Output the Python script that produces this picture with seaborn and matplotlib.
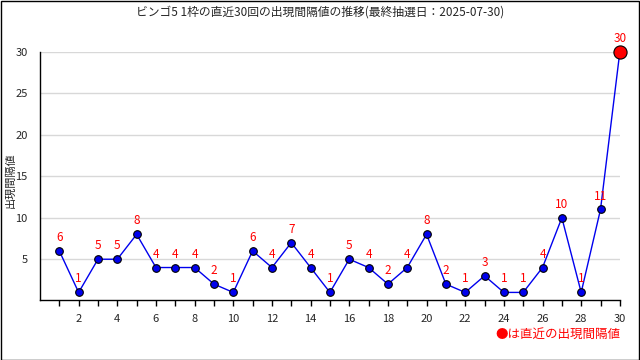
import matplotlib
matplotlib.use("Agg")
import matplotlib.pyplot as plt
import seaborn as sns
import pandas as pd

draws = list(range(1, 31))
intervals = [6, 1, 5, 5, 8, 4, 4, 4, 2, 1, 6, 4, 7, 4, 1, 5, 4, 2, 4, 8,
             2, 1, 3, 1, 1, 4, 10, 1, 11, 30]
xtick_labels = ["" if i % 2 else str(i) for i in draws]
yticks = [5, 10, 15, 20, 25, 30]

df = pd.DataFrame({"draw": draws, "interval": intervals})

sns.set_style("white")
plt.rcParams["font.family"] = ["Noto Sans CJK JP", "DejaVu Sans"]

fig = plt.figure(figsize=(6.4, 3.6), dpi=100)
ax = fig.add_axes([0.0625, 0.167, 0.906, 0.689])

sns.lineplot(data=df, x="draw", y="interval", ax=ax, color="#0000ee",
             linewidth=1, marker="o", markersize=5.5,
             markerfacecolor="#0000ee", markeredgecolor="black",
             markeredgewidth=0.8, zorder=3)
last = df.iloc[[-1]]
sns.scatterplot(data=last, x="draw", y="interval", ax=ax, color="#ff0000",
                s=90, edgecolor="black", linewidth=0.8, zorder=4,
                legend=False, clip_on=False)

for x, y in zip(draws, intervals):
    ax.annotate(str(y), (x, y), xytext=(0, 5), textcoords="offset points",
                ha="center", va="bottom", color="#ff0000", fontsize=8.5)

ax.set_xlim(0, 30)
ax.set_ylim(0.1, 30)
ax.set_xticks(draws)
ax.set_xticklabels(xtick_labels)
ax.set_yticks(yticks)
ax.yaxis.grid(True, color="#d8d8d8", linewidth=1)
ax.set_axisbelow(True)
for s in ["top", "right"]:
    ax.spines[s].set_visible(False)
for s in ["left", "bottom"]:
    ax.spines[s].set_color("black")
    ax.spines[s].set_linewidth(1)
ax.tick_params(axis="x", length=4, width=1, color="black", labelsize=8, pad=6, direction="out", bottom=True)
ax.tick_params(axis="y", length=0, labelsize=8, pad=9)
ax.set_xlabel("")
ax.set_ylabel("")

fig.text(10 / 640, 0.5, "出現間隔値", rotation=90, ha="center", va="center", fontsize=8)
fig.text(0.5, 0.967, "ビンゴ5 1枠の直近30回の出現間隔値の推移(最終抽選日：2025-07-30)",
         ha="center", va="center", fontsize=8.5)
fig.text(0.97, 0.07, "●は直近の出現間隔値", ha="right", va="center",
         color="#ff0000", fontsize=9)

fig.patches.append(plt.Rectangle((0.001, 0.001), 0.997, 0.997, transform=fig.transFigure,
                                 fill=False, edgecolor="black", linewidth=1))

fig.savefig("out.png", dpi=100)
